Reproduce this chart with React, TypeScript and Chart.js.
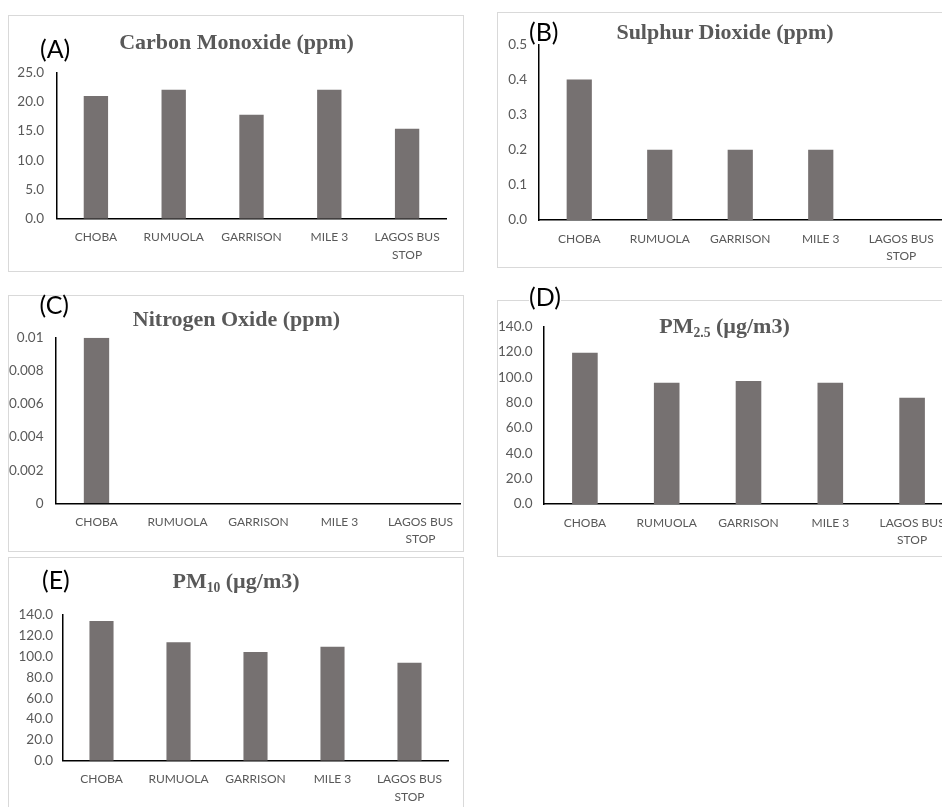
import React, { useEffect, useRef } from 'react';
import { Chart, registerables } from 'chart.js';

Chart.register(...registerables);

// ---- data ----
const categories: (string | string[])[] = ['CHOBA', 'RUMUOLA', 'GARRISON', 'MILE 3', ['LAGOS BUS', 'STOP']];
const carbonMonoxide = [21.0, 22.1, 17.8, 22.1, 15.4];
const sulphurDioxide = [0.4, 0.2, 0.2, 0.2, 0];
const nitrogenOxide = [0.01, 0, 0, 0, 0];
const pm25 = [119.5, 95.8, 97.1, 95.8, 83.9];
const pm10 = [134.2, 113.8, 104.4, 109.5, 94.2];

const coTicks = ['0.0', '5.0', '10.0', '15.0', '20.0', '25.0'];
const so2Ticks = ['0.0', '0.1', '0.2', '0.3', '0.4', '0.5'];
const noTicks = ['0', '0.002', '0.004', '0.006', '0.008', '0.01'];
const pmTicks = ['0.0', '20.0', '40.0', '60.0', '80.0', '100.0', '120.0', '140.0'];

// ---- styles ----
const BAR = '#767171';
const TXT = '#595959';
const BOX = '#d9d9d9';

type Rect = { l: number; t: number; r: number; b: number };
type PanelCfg = {
  key: string;
  letter: string;
  title: React.ReactNode;
  values: number[];
  ticks: string[];
  max: number;
  step: number;
  box: Rect;
  area: Rect;
  titleCx: number;
  titleTop: number;
  labelX: number;
  labelTop: number;
  labelBg?: boolean;
  yPad: number;
};

const Sub = ({ children }: { children: React.ReactNode }) => (
  <span style={{ fontSize: '0.62em', verticalAlign: '-0.28em', lineHeight: 0 }}>{children}</span>
);

const panels: PanelCfg[] = [
  {
    key: 'A', letter: '(A)', title: 'Carbon Monoxide (ppm)', values: carbonMonoxide, ticks: coTicks, max: 25, step: 5,
    box: { l: 8, t: 15, r: 464, b: 272 }, area: { l: 57, t: 72.7, r: 446, b: 218.7 },
    titleCx: 236.5, titleTop: 30.6, labelX: 40, labelTop: 36, yPad: 13,
  },
  {
    key: 'B', letter: '(B)', title: 'Sulphur Dioxide (ppm)', values: sulphurDioxide, ticks: so2Ticks, max: 0.5, step: 0.1,
    box: { l: 497, t: 12, r: 1000, b: 268 }, area: { l: 539, t: 44.3, r: 941.5, b: 220 },
    titleCx: 725, titleTop: 21.2, labelX: 529, labelTop: 18.5, yPad: 12,
  },
  {
    key: 'C', letter: '(C)', title: 'Nitrogen Oxide (ppm)', values: nitrogenOxide, ticks: noTicks, max: 0.01, step: 0.002,
    box: { l: 8, t: 295, r: 464, b: 552 }, area: { l: 56, t: 337.7, r: 463, b: 503.3 },
    titleCx: 236.5, titleTop: 307.9, labelX: 39.5, labelTop: 292, yPad: 12.5,
  },
  {
    key: 'D', letter: '(D)', title: <>PM<Sub>2.5</Sub> (µg/m3)</>, values: pm25, ticks: pmTicks, max: 140, step: 20,
    box: { l: 497, t: 300, r: 1000, b: 557 }, area: { l: 544, t: 326.7, r: 953, b: 504 },
    titleCx: 724.5, titleTop: 314.6, labelX: 529, labelTop: 284, labelBg: true, yPad: 11.5,
  },
  {
    key: 'E', letter: '(E)', title: <>PM<Sub>10</Sub> (µg/m3)</>, values: pm10, ticks: pmTicks, max: 140, step: 20,
    box: { l: 8, t: 557, r: 464, b: 900 }, area: { l: 63, t: 615, r: 448, b: 760.7 },
    titleCx: 236, titleTop: 569.6, labelX: 42, labelTop: 567, yPad: 10,
  },
];

function ChartCanvas({ cfg }: { cfg: PanelCfg }) {
  const ref = useRef<HTMLCanvasElement>(null);
  const cl = cfg.box.l + 1;
  const ct = cfg.box.t + 1;
  const cw = cfg.box.r - 1 - cl;
  const ch = Math.min(cfg.box.b - 1, 807) - ct;

  useEffect(() => {
    if (!ref.current) return;
    const yWidth = cfg.area.l - cl;
    const xHeight = ct + ch - cfg.area.b;
    const chart = new Chart(ref.current, {
      type: 'bar',
      data: {
        labels: categories as any,
        datasets: [
          {
            data: cfg.values,
            backgroundColor: BAR,
            borderWidth: 0,
            barPercentage: 0.313,
            categoryPercentage: 1,
          },
        ],
      },
      options: {
        animation: false,
        responsive: false,
        maintainAspectRatio: false,
        events: [],
        layout: {
          padding: { left: 0, top: cfg.area.t - ct, right: cl + cw - cfg.area.r, bottom: 0 },
        },
        plugins: { legend: { display: false }, tooltip: { enabled: false }, title: { display: false } },
        scales: {
          x: {
            grid: { display: false, drawTicks: false },
            border: { display: true, color: '#000', width: 1.5 },
            ticks: {
              color: TXT,
              font: { family: 'Lato', size: 12, lineHeight: 1.45 },
              padding: 10,
              maxRotation: 0,
              minRotation: 0,
              autoSkip: false,
            },
            afterFit: (s: any) => {
              s.height = xHeight;
            },
          },
          y: {
            min: 0,
            max: cfg.max,
            grid: { display: false, drawTicks: false },
            border: { display: true, color: '#000', width: 1.5 },
            ticks: {
              stepSize: cfg.step,
              color: TXT,
              font: { family: 'Lato', size: 13.5 },
              padding: cfg.yPad,
              callback: (v: any) => cfg.ticks[Math.round(Number(v) / cfg.step)] ?? '',
            },
            afterFit: (s: any) => {
              s.width = yWidth;
            },
          },
        },
      },
    });
    return () => chart.destroy();
  }, []);

  return (
    <canvas
      ref={ref}
      width={cw}
      height={ch}
      style={{ position: 'absolute', left: cl, top: ct, width: cw, height: ch }}
    />
  );
}

function Panel({ cfg }: { cfg: PanelCfg }) {
  return (
    <>
      <div
        style={{
          position: 'absolute',
          left: cfg.box.l,
          top: cfg.box.t,
          width: cfg.box.r - cfg.box.l,
          height: cfg.box.b - cfg.box.t,
          border: `1px solid ${BOX}`,
          boxSizing: 'border-box',
          background: '#fff',
        }}
      />
      <ChartCanvas cfg={cfg} />
      <div
        style={{
          position: 'absolute',
          left: cfg.titleCx,
          top: cfg.titleTop,
          transform: 'translateX(-50%)',
          whiteSpace: 'nowrap',
          fontFamily: '"Liberation Serif", "Times New Roman", serif',
          fontWeight: 'bold',
          fontSize: 22,
          lineHeight: 1,
          color: TXT,
        }}
      >
        {cfg.title}
      </div>
      <div
        style={{
          position: 'absolute',
          left: cfg.labelX,
          top: cfg.labelTop,
          whiteSpace: 'nowrap',
          fontFamily: 'Lato, sans-serif',
          fontSize: 25,
          lineHeight: 1,
          color: '#000',
          background: cfg.labelBg ? '#fff' : 'transparent',
        }}
      >
        {cfg.letter}
      </div>
    </>
  );
}

export default function App() {
  return (
    <div
      style={{
        position: 'absolute',
        left: 0,
        top: 0,
        width: 942,
        height: 807,
        overflow: 'hidden',
        background: '#fff',
      }}
    >
      {panels.map((p) => (
        <Panel key={p.key} cfg={p} />
      ))}
    </div>
  );
}
